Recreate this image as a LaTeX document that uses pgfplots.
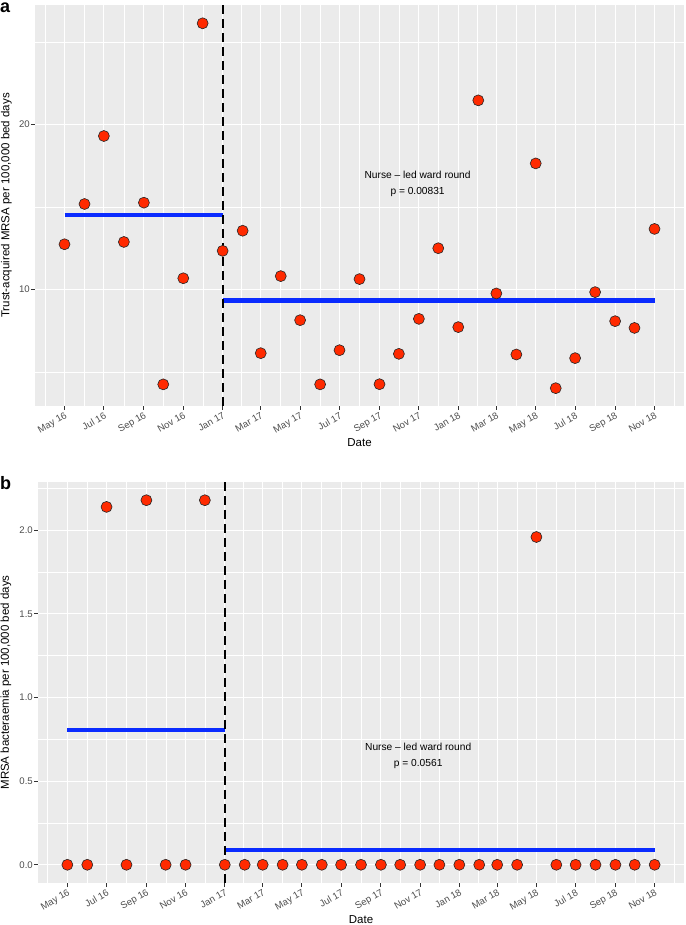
\documentclass[border=0pt]{standalone}
\usepackage{fontspec}
\setmainfont{Liberation Sans}
\usepackage{pgfplots}
\pgfplotsset{compat=1.18}
\definecolor{ggbg}{HTML}{EBEBEB}
\definecolor{ggtxt}{HTML}{4D4D4D}
\definecolor{ggtick}{HTML}{333333}
\definecolor{ptred}{HTML}{FF2A00}
\definecolor{lnblue}{HTML}{0A2BFF}
\pgfplotsset{
  ggpanel/.style={
    scale only axis,
    axis background/.style={fill=ggbg},
    axis line style={draw=none},
    grid=both,
    major grid style={draw=white, line width=1.1pt},
    minor grid style={draw=white, line width=0.55pt},
    tick align=outside,
    xtick pos=left, ytick pos=left,
    major tick length=4pt, minor tick length=0pt,
    tick style={color=ggtick, line width=0.9pt},
    xmin=-45.7, xmax=959.7,
    xtick={0,61,123,184,245,304,365,426,488,549,610,669,730,791,853,914},
    xticklabels={May 16,Jul 16,Sep 16,Nov 16,Jan 17,Mar 17,May 17,Jul 17,Sep 17,Nov 17,Jan 18,Mar 18,May 18,Jul 18,Sep 18,Nov 18},
    minor xtick={-30.5,30.5,92,153.5,214.5,274.5,334.5,395.5,457,518.5,579.5,639.5,699.5,760.5,822,883.5,944.5},
    xticklabel style={font=\fontsize{9.6}{9.6}\selectfont, color=ggtxt, rotate=30, anchor=north east, inner sep=1pt},
    yticklabel style={font=\fontsize{9.6}{9.6}\selectfont, color=ggtxt, anchor=east, inner sep=1pt},
    xlabel={Date},
    every axis x label/.style={at={(rel axis cs:0.5,0)}, anchor=center, yshift=-37pt, font=\fontsize{11.5}{11.5}\selectfont},
    clip=true,
  },
  pts/.style={only marks, mark=*, mark size=5.5pt, mark options={fill=ptred, draw=black!85, line width=0.6pt}},
  meanline/.style={lnblue, line width=4.5pt, no marks},
  vline/.style={black, line width=2.2pt, dash pattern=on 9pt off 5pt, no marks},
}
\begin{document}
\begin{tikzpicture}
\useasboundingbox (0,0) rectangle (685pt,925pt);
% ---------------- panel a ----------------
\begin{axis}[ggpanel,
  at={(35pt,519pt)}, anchor=south west,
  width=649pt, height=401pt,
  ymin=2.93, ymax=27.23,
  ytick={10,20}, yticklabels={10,20},
  minor ytick={5,15,25},
  ylabel={Trust-acquired MRSA per 100,000 bed days},
  every axis y label/.style={at={([xshift=-28.5pt]rel axis cs:0,0.5)}, rotate=90, anchor=center, font=\fontsize{11.5}{11.5}\selectfont},
]
\addplot[pts] coordinates {
(0,12.73) (31,15.17) (61,19.29) (92,12.87) (123,15.25) (153,4.24) (184,10.67) (214,26.12)
(245,12.33) (276,13.55) (304,6.13) (335,10.80) (365,8.13) (396,4.24) (426,6.31) (457,10.62)
(488,4.25) (518,6.09) (549,8.21) (579,12.49) (610,7.71) (641,21.45) (669,9.75) (700,6.05)
(730,17.63) (761,4.01) (791,5.83) (822,9.83) (853,8.07) (883,7.66) (914,13.66)
};
\addplot[meanline] coordinates {(0,14.50) (245,14.50)};
\addplot[meanline] coordinates {(245,9.31) (914,9.31)};
\addplot[vline] coordinates {(245,2.93) (245,27.23)};
\node[align=center, font=\fontsize{10.2}{16}\selectfont] at (axis cs:547,16.41) {Nurse – led ward round\\p = 0.00831};
\end{axis}
% ---------------- panel b ----------------
\begin{axis}[ggpanel,
  at={(38pt,42pt)}, anchor=south west,
  width=646pt, height=401pt,
  ymin=-0.109, ymax=2.289,
  ytick={0,0.5,1,1.5,2}, yticklabels={0.0,0.5,1.0,1.5,2.0},
  minor ytick={0.25,0.75,1.25,1.75,2.25},
  ylabel={MRSA bacteraemia per 100,000 bed days},
  every axis y label/.style={at={([xshift=-32pt]rel axis cs:0,0.5)}, rotate=90, anchor=center, font=\fontsize{11.5}{11.5}\selectfont},
]
\addplot[pts] coordinates {
(0,0) (31,0) (61,2.14) (92,0) (123,2.18) (153,0) (184,0) (214,2.18)
(245,0) (276,0) (304,0) (335,0) (365,0) (396,0) (426,0) (457,0)
(488,0) (518,0) (549,0) (579,0) (610,0) (641,0) (669,0) (700,0)
(730,1.96) (761,0) (791,0) (822,0) (853,0) (883,0) (914,0)
};
\addplot[meanline] coordinates {(0,0.805) (245,0.805)};
\addplot[meanline] coordinates {(245,0.0897) (914,0.0897)};
\addplot[vline] coordinates {(245,-0.109) (245,2.289)};
\node[align=center, font=\fontsize{10.2}{16}\selectfont] at (axis cs:546,0.652) {Nurse – led ward round\\p = 0.0561};
\end{axis}
% panel letters
\node[anchor=base west, inner sep=0pt, font=\bfseries\fontsize{18}{18}\selectfont] at (0pt,912pt) {a};
\node[anchor=base west, inner sep=0pt, font=\bfseries\fontsize{18}{18}\selectfont] at (0pt,435pt) {b};
\end{tikzpicture}
\end{document}
